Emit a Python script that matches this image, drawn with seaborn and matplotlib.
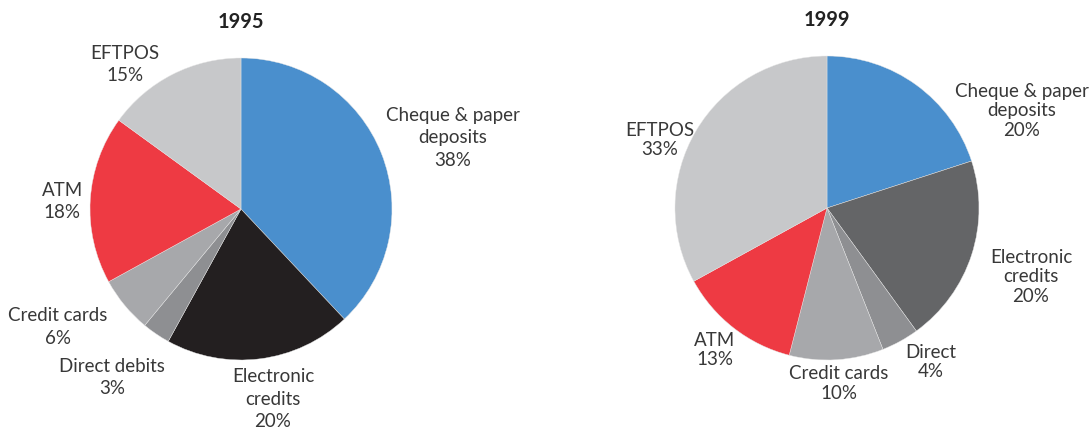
import matplotlib
matplotlib.use("Agg")
import matplotlib.pyplot as plt
import seaborn as sns

# Share of non-cash transactions by type
categories = ["Cheque & paper\ndeposits", "Electronic\ncredits", "Direct debits",
              "Credit cards", "ATM", "EFTPOS"]
categories_1999 = ["Cheque & paper\ndeposits", "Electronic\ncredits", "Direct",
                   "Credit cards", "ATM", "EFTPOS"]
shares_1995 = [38, 20, 3, 6, 18, 15]
shares_1999 = [20, 20, 4, 10, 13, 33]

colors_1995 = ["#4a8fcd", "#231f20", "#8e8f92", "#a7a8ab", "#ee3a43", "#c7c8ca"]
colors_1999 = ["#4a8fcd", "#646567", "#8e8f92", "#a7a8ab", "#ee3a43", "#c7c8ca"]

# label anchors in pie units (centre 0,0, radius 1)
label_pos_1995 = [(1.404, 0.477), (0.212, -1.252), (-0.854, -1.109),
                  (-1.212, -0.775), (-1.185, 0.056), (-0.768, 0.964)]
label_pos_1999 = [(1.283, 0.645), (1.342, -0.447), (0.684, -1.007),
                  (0.079, -1.148), (-0.737, -0.928), (-1.099, 0.454)]

sns.set_theme(style="white")
plt.rcParams["font.family"] = ["Lato", "DejaVu Sans"]

TEXT = "#383838"

fig = plt.figure(figsize=(10.9, 4.31), dpi=100)
ax1 = fig.add_axes([90 / 1090, (431 - 361) / 431, 302 / 1090, 302 / 431])
ax2 = fig.add_axes([675 / 1090, (431 - 361) / 431, 304 / 1090, 304 / 431])


def draw_pie(ax, values, labels, colors, positions, title, spacing):
    ax.pie(values, colors=colors, startangle=90, counterclock=False,
           wedgeprops=dict(linewidth=0.3, edgecolor="#e6e6e6"))
    ax.set_xlim(-1, 1)
    ax.set_ylim(-1, 1)
    ax.set_aspect("equal")
    ax.axis("off")
    for lab, val, (x, y) in zip(labels, values, positions):
        ax.text(x, y, f"{lab}\n{val}%", ha="center", va="center",
                fontsize=13.5, color=TEXT, linespacing=spacing)
    ax.text(0, 1.245, title, ha="center", va="center", fontsize=14.5,
            fontweight="bold", color="#222222")


draw_pie(ax1, shares_1995, categories, colors_1995, label_pos_1995, "1995", 1.38)
draw_pie(ax2, shares_1999, categories_1999, colors_1999, label_pos_1999, "1999", 1.2)

fig.savefig("out.png", dpi=100)
